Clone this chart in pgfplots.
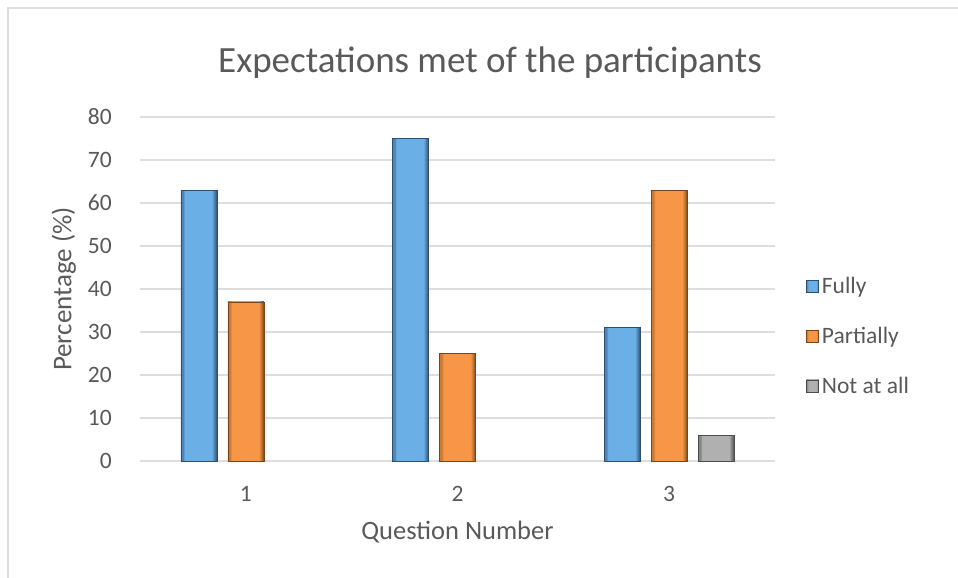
\documentclass[border=0pt]{standalone}
\usepackage{pgfplots}
\pgfplotsset{compat=1.18}
\usepackage{fontspec}
\setmainfont{Carlito}
\definecolor{txt}{HTML}{595959}
\definecolor{gridc}{HTML}{DDDDDD}
\definecolor{bm}{HTML}{6AAFE6}
\definecolor{bd}{HTML}{4F85B5}
\definecolor{bdd}{HTML}{2F4F6E}
\definecolor{om}{HTML}{F79646}
\definecolor{od}{HTML}{C97A33}
\definecolor{odd}{HTML}{7A4518}
\definecolor{gm}{HTML}{B0B0B0}
\definecolor{gd}{HTML}{858585}
\definecolor{gdd}{HTML}{4D4D4D}
\pgfdeclarehorizontalshading{bevelB}{100bp}{color(0bp)=(bd); color(25bp)=(bd); color(28bp)=(bd); color(30.5bp)=(bm); color(68bp)=(bm); color(71bp)=(bd); color(75bp)=(bdd); color(100bp)=(bdd)}
\pgfdeclarehorizontalshading{bevelO}{100bp}{color(0bp)=(od); color(25bp)=(od); color(28bp)=(od); color(30.5bp)=(om); color(68bp)=(om); color(71bp)=(od); color(75bp)=(odd); color(100bp)=(odd)}
\pgfdeclarehorizontalshading{bevelG}{100bp}{color(0bp)=(gd); color(25bp)=(gd); color(28bp)=(gd); color(30.5bp)=(gm); color(68bp)=(gm); color(71bp)=(gd); color(75bp)=(gdd); color(100bp)=(gdd)}
\pgfplotsset{
  fullybar/.style={shading=bevelB, draw=bdd, line width=0.6pt, bar shift=-0.222},
  partbar/.style={shading=bevelO, draw=odd, line width=0.6pt, bar shift=0},
  notbar/.style={shading=bevelG, draw=gdd, line width=0.6pt, bar shift=0.222},
}
\begin{document}
\begin{tikzpicture}[x=1pt,y=1pt]
\path[use as bounding box] (0,0) rectangle (958,578);
\draw[gridc, line width=1.5pt] (8,0) -- (8,570) -- (958,570);
\node[txt, font=\fontsize{37}{42}\selectfont] at (490,515) {Expectations met of the participants};
\begin{axis}[
  at={(140pt,117pt)}, anchor=south west,
  scale only axis, width=635pt, height=344pt,
  xmin=0.5, xmax=3.5, ymin=0, ymax=80,
  xtick={1,2,3}, ytick={0,10,...,80},
  separate axis lines,
  axis x line*=bottom,
  x axis line style={gridc, line width=1.6pt, -},
  y axis line style={draw=none},
  xmajorgrids=false, ymajorgrids=true, grid style={gridc, line width=1.6pt},
  major tick length=0pt,
  /pgf/number format/assume math mode=true,
  tick label style={txt, font=\fontsize{23.5}{28}\selectfont},
  yticklabel style={anchor=east, inner sep=0pt, xshift=-28pt},
  xticklabel style={anchor=center, inner sep=0pt, yshift=-33pt},
  xlabel={Question Number}, ylabel={Percentage (\%)},
  every axis x label/.style={at={(axis description cs:0.5,-0.206)}, anchor=center, txt, font=\fontsize{26.5}{30}\selectfont},
  every axis y label/.style={at={(axis description cs:-0.12,0.5)}, rotate=90, anchor=center, txt, font=\fontsize{27}{30}\selectfont},
  ybar, bar width=0.17,
  legend style={draw=none, fill=none, at={(1.049,0.363)}, anchor=west, inner sep=0pt, row sep=28pt,
    font=\fontsize{23.5}{27}\selectfont, text=txt, legend cell align=left,
    nodes={inner xsep=3pt}},
  legend image code/.code={\fill[#1] (0pt,-6pt) rectangle (12pt,6pt);},
  clip=false,
]
\addplot[fullybar] coordinates {(1,63)};
\addplot[partbar] coordinates {(1,37)};
\addplot[notbar] coordinates {(3,6)};
\addplot[fullybar, forget plot] coordinates {(2,75)};
\addplot[fullybar, forget plot] coordinates {(3,31)};
\addplot[partbar, forget plot] coordinates {(2,25)};
\addplot[partbar, forget plot] coordinates {(3,63)};
\legend{Fully, Partially, Not at all}
\end{axis}
\end{tikzpicture}
\end{document}
